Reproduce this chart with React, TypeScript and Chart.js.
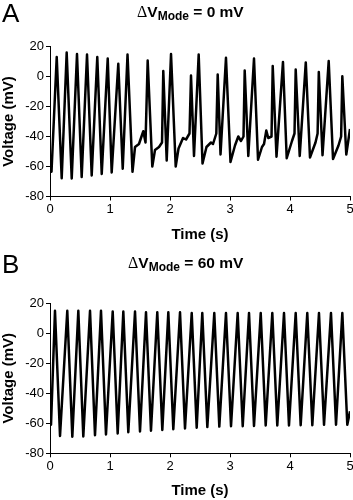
import React, { useEffect, useRef } from "react";
import { Chart, registerables } from "chart.js";

Chart.register(...registerables);

const FONT = "'Liberation Sans', Arial, Helvetica, sans-serif";

const xTickValues = [0, 1, 2, 3, 4, 5];
const yTickValues = [-80, -60, -40, -20, 0, 20];
const xTitle = "Time (s)";
const yTitle = "Voltage (mV)";

// Panel A: ΔV_Mode = 0 mV
const timeA = [
  0.0, 0.025, 0.112, 0.195, 0.278, 0.362, 0.45, 0.528, 0.617, 0.695, 0.788, 0.862, 0.962,
  1.028, 1.138, 1.212, 1.292, 1.375, 1.417, 1.483, 1.525, 1.555, 1.592, 1.628, 1.705,
  1.75, 1.817, 1.867, 1.888, 1.945, 2.017, 2.095, 2.142, 2.217, 2.267, 2.325, 2.35,
  2.4, 2.478, 2.542, 2.608, 2.683, 2.717, 2.772, 2.795, 2.842, 2.933, 3.008, 3.083,
  3.138, 3.183, 3.225, 3.245, 3.305, 3.4, 3.467, 3.533, 3.567, 3.605, 3.638, 3.692,
  3.712, 3.775, 3.883, 3.945, 4.033, 4.075, 4.095, 4.162, 4.263, 4.333, 4.425, 4.46,
  4.48, 4.542, 4.645, 4.717, 4.808, 4.852, 4.872, 4.938, 5.0,
];
const voltA = [
  -54, -63.5, 13, -67.8, 16, -68, 15, -67, 14.7, -66, 13, -65, 12,
  -64, 8.5, -61.5, 14.7, -63.5, -47, -45, -40, -36.5, -44, 10.7, -60,
  -49, -47, -44, 3.6, -56, 15, -60, -48, -41, -42, -38, 0.7,
  -53, 14.7, -58, -47, -44, -45, -38, 1.3, -52, 12.5, -57, -46,
  -40, -43, -40, 4, -53, 12, -55.5, -47, -45, -36, -41, -40,
  7, -53.5, 9.7, -54.5, -43, -38, 4.7, -53, 9.4, -54, -44, -38,
  3, -52.5, 10.3, -55, -46, -40, 0.2, -52, -35,
];

// Panel B: ΔV_Mode = 60 mV
const timeB = [
  0.0, 0.017, 0.083, 0.167, 0.288, 0.372, 0.472, 0.555, 0.667, 0.75, 0.85, 0.933, 1.045,
  1.128, 1.222, 1.305, 1.417, 1.5, 1.6, 1.683, 1.788, 1.872, 1.972, 2.055, 2.167,
  2.25, 2.362, 2.445, 2.538, 2.622, 2.738, 2.822, 2.933, 3.017, 3.128, 3.212, 3.317,
  3.4, 3.512, 3.595, 3.705, 3.788, 3.9, 3.983, 4.095, 4.178, 4.288, 4.372, 4.483,
  4.567, 4.683, 4.767, 4.872, 4.955, 5.0,
];
const voltB = [
  -54.5, -61, 15, -68.5, 15, -69, 15, -68.8, 15, -68, 15, -67.5, 14.5,
  -66.8, 14.5, -66, 14.5, -65.5, 14, -65, 14, -64.5, 14, -64, 14,
  -63.5, 13.5, -63, 13.5, -62.5, 13.5, -62.2, 13.5, -62, 13.5, -62, 13.5,
  -61.8, 13.5, -61.5, 13.5, -61.5, 13.5, -61.5, 13.5, -61.3, 13.5, -61.3, 13.5,
  -61, 13.5, -61, 13.5, -61, -52,
];

type PanelProps = {
  times: number[];
  volts: number[];
  chartTop: number;
  xAxisHeight: number;
  titlePadBottom: number;
};

function TracePanel({ times, volts, chartTop, xAxisHeight, titlePadBottom }: PanelProps) {
  const ref = useRef<HTMLCanvasElement | null>(null);
  useEffect(() => {
    if (!ref.current) return;
    const chart = new Chart(ref.current, {
      type: "line",
      data: {
        datasets: [
          {
            data: times.map((t, i) => ({ x: t, y: volts[i] })),
            borderColor: "#000",
            borderWidth: 2.5,
            pointRadius: 0,
            tension: 0,
            fill: false,
            borderJoinStyle: "round",
          },
        ],
      },
      options: {
        responsive: false,
        animation: false,
        layout: { padding: { top: chartTop, right: 3, bottom: 0, left: 0 } },
        plugins: { legend: { display: false }, tooltip: { enabled: false }, title: { display: false } },
        scales: {
          x: {
            type: "linear",
            min: 0,
            max: 5,
            afterBuildTicks: (s: any) => {
              s.ticks = xTickValues.map((v) => ({ value: v }));
            },
            ticks: { color: "#000", font: { family: FONT, size: 13 }, padding: 1, maxRotation: 0, autoSkip: false },
            grid: { display: true, drawOnChartArea: false, drawTicks: true, tickLength: 4, color: "#000" },
            border: { display: true, color: "#000", width: 1 },
            title: {
              display: true,
              text: xTitle,
              color: "#000",
              font: { family: FONT, size: 15, weight: "bold" },
              padding: { top: 0, bottom: titlePadBottom },
            },
            afterFit: (s: any) => {
              s.height = xAxisHeight;
              s.paddingLeft = 0;
              s.paddingRight = 0;
            },
          },
          y: {
            type: "linear",
            min: -80,
            max: 20,
            afterBuildTicks: (s: any) => {
              s.ticks = yTickValues.map((v) => ({ value: v }));
            },
            ticks: { color: "#000", font: { family: FONT, size: 13 }, padding: 2, autoSkip: false },
            grid: { display: true, drawOnChartArea: false, drawTicks: true, tickLength: 4, color: "#000" },
            border: { display: true, color: "#000", width: 1 },
            title: {
              display: true,
              text: yTitle,
              color: "#000",
              font: { family: FONT, size: 15, weight: "bold" },
              padding: { top: 0, bottom: 0 },
            },
            afterFit: (s: any) => {
              s.width = 50;
              s.paddingTop = 0;
              s.paddingBottom = 0;
            },
          },
        },
      } as any,
    });
    return () => chart.destroy();
  }, [times, volts, chartTop, xAxisHeight, titlePadBottom]);
  return <canvas ref={ref} width={353} height={250} style={{ display: "block", width: 353, height: 250 }} />;
}

function Heading({ letter, value, top, titleLeft }: { letter: string; value: string; top: number; titleLeft: number }) {
  return (
    <>
      <div
        style={{
          position: "absolute",
          left: 2,
          top: top,
          fontFamily: FONT,
          fontSize: 26,
          lineHeight: "26px",
          color: "#000",
          whiteSpace: "nowrap",
        }}
      >
        {letter}
      </div>
      <div
        style={{
          position: "absolute",
          left: titleLeft,
          top: top + 4,
          fontFamily: FONT,
          fontSize: 15.5,
          fontWeight: "bold",
          lineHeight: "16px",
          color: "#000",
          whiteSpace: "nowrap",
        }}
      >
        <span style={{ fontFamily: "'Liberation Serif', serif", fontWeight: "normal", fontSize: 16 }}>Δ</span>
        V
        <span style={{ fontSize: 12, position: "relative", top: 3 }}>Mode</span>
        {" = " + value}
      </div>
    </>
  );
}

export default function App() {
  return (
    <div style={{ position: "absolute", left: 0, top: 0, width: 353, height: 500, background: "#fff" }}>
      <div style={{ position: "absolute", left: 0, top: 0 }}>
        <TracePanel times={timeA} volts={voltA} chartTop={46.5} xAxisHeight={53.5} titlePadBottom={6} />
      </div>
      <div style={{ position: "absolute", left: 0, top: 250 }}>
        <TracePanel times={timeB} volts={voltB} chartTop={53.3} xAxisHeight={46.7} titlePadBottom={0} />
      </div>
      <Heading letter="A" value="0 mV" top={0} titleLeft={137} />
      <Heading letter="B" value="60 mV" top={251} titleLeft={128} />
    </div>
  );
}
